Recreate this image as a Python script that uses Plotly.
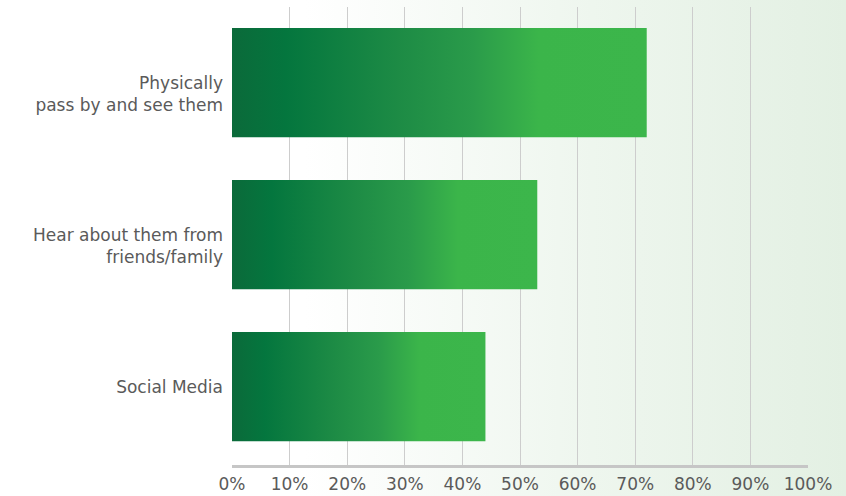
import plotly.graph_objects as go

# ---- data ----
categories = ["Physically<br>pass by and see them",
              "Hear about them from<br>friends/family",
              "Social Media"]
values = [72, 53, 44]
x_tick_values = [0, 10, 20, 30, 40, 50, 60, 70, 80, 90, 100]
x_tick_labels = [f"{v}%" for v in x_tick_values]

W, H = 846, 496
bar_half = 0.359
font_family = "DejaVu Sans"
text_color = "#5a5a5a"

bar_scale = [[0.0, "#0b6a3a"], [0.13, "#04763e"], [0.40, "#1d8b45"],
             [0.58, "#2a9b4a"], [0.74, "#3bb54a"], [1.0, "#3cb64b"]]

fig = go.Figure()

# background gradient on full-figure helper axes
fig.add_trace(go.Scatter(
    x=[0, 1, 1, 0, 0], y=[0, 0, 1, 1, 0], mode="lines", fill="toself",
    line=dict(width=0),
    fillgradient=dict(type="horizontal",
                      colorscale=[[0, "#ffffff"], [0.36, "#ffffff"], [0.7, "#eef6ee"], [1, "#e3f0e3"]]),
    hoverinfo="skip", showlegend=False, xaxis="x", yaxis="y"))

# bars with horizontal gradient
for i, (cat, v) in enumerate(zip(categories, values)):
    fig.add_trace(go.Scatter(
        x=[0, v, v, 0, 0],
        y=[i - bar_half, i - bar_half, i + bar_half, i + bar_half, i - bar_half],
        mode="lines", fill="toself", line=dict(width=0),
        fillgradient=dict(type="horizontal", colorscale=bar_scale),
        name=cat.replace("<br>", " "), hovertemplate=f"{v}%<extra></extra>",
        showlegend=False, xaxis="x2", yaxis="y2"))

fig.update_layout(
    width=W, height=H,
    margin=dict(l=0, r=0, t=0, b=0),
    paper_bgcolor="white",
    plot_bgcolor="rgba(0,0,0,0)",
    template="none",
    showlegend=False,
    xaxis=dict(domain=[0, 1], range=[0, 1], visible=False, fixedrange=True),
    yaxis=dict(domain=[0, 1], range=[0, 1], visible=False, fixedrange=True),
    xaxis2=dict(domain=[232 / W, 808 / W], range=[0, 100], anchor="y2",
                tickvals=x_tick_values, ticktext=x_tick_labels,
                showgrid=True, gridcolor="#cdcdcd", gridwidth=1.4,
                zeroline=False, showline=True, linecolor="#c6c6c6", linewidth=3,
                ticks="", ticklabelstandoff=2,
                tickfont=dict(family=font_family, size=17, color=text_color),
                automargin=False),
    yaxis2=dict(domain=[31 / H, 489 / H], range=[2.515, -0.497], anchor="x2",
                tickvals=list(range(len(categories))),
                ticktext=["<br>" + c if "<br>" in c else c for c in categories],
                showgrid=False, zeroline=False, showline=False, ticks="",
                ticklabelstandoff=8,
                tickfont=dict(family=font_family, size=17, color=text_color),
                automargin=False),
)

fig.write_html("out.html", config={"displayModeBar": False},
               post_script="document.body.style.margin='0';")
